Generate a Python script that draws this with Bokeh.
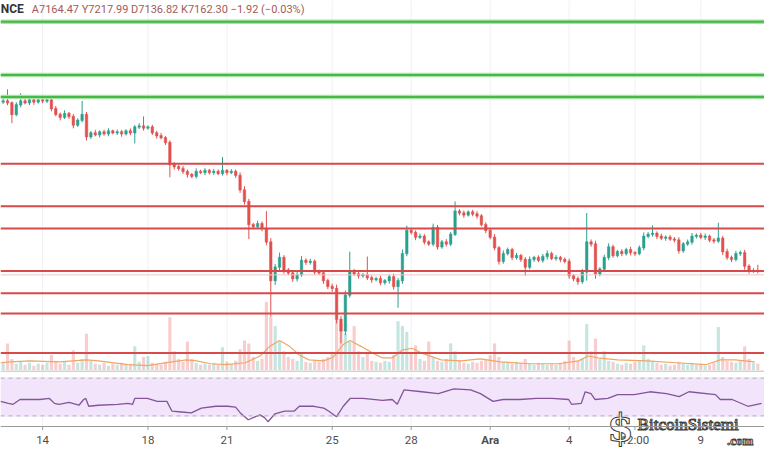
from bokeh.plotting import figure
from bokeh.models import Range1d, Span
from bokeh.layouts import column
from bokeh.embed import file_html
from bokeh.resources import INLINE
from bokeh.core.properties import value

# ---------------- data (4h candles, time in days from 14 Nov 00:00) ----------------
first_open = 8735
closes = [
    8744, 8726, 8618, 8708, 8744, 8726, 8753, 8735, 8753, 8744,
    8753, 8672, 8618, 8591, 8627, 8600, 8519, 8564, 8618, 8411,
    8447, 8429, 8456, 8438, 8465, 8447, 8456, 8438, 8465, 8447,
    8501, 8510, 8492, 8501, 8447, 8420, 8402, 8357, 8150, 8132,
    8114, 8087, 8060, 8042, 8087, 8078, 8096, 8078, 8087, 8069,
    8096, 8078, 8087, 8051, 7916, 7808, 7592, 7574, 7601, 7556,
    7430, 7070, 7196, 7286, 7169, 7142, 7088, 7124, 7259, 7241,
    7250, 7151, 7142, 7070, 7016, 6998, 6710, 6602, 6935, 7160,
    7133, 7115, 7124, 7097, 7079, 7088, 7052, 7070, 7106, 7016,
    7070, 7322, 7538, 7520, 7475, 7484, 7430, 7412, 7565, 7385,
    7430, 7412, 7502, 7718, 7700, 7682, 7709, 7691, 7673, 7592,
    7538, 7475, 7376, 7250, 7322, 7358, 7286, 7304, 7268, 7196,
    7268, 7286, 7259, 7295, 7322, 7277, 7286, 7268, 7250, 7115,
    7088, 7061, 7151, 7430, 7412, 7133, 7178, 7286, 7385, 7304,
    7340, 7322, 7358, 7331, 7322, 7376, 7484, 7502, 7511, 7484,
    7466, 7475, 7457, 7448, 7349, 7412, 7430, 7484, 7493, 7475,
    7484, 7448, 7439, 7466, 7340, 7286, 7268, 7322, 7331, 7205,
    7160, 7164.47, 7162.30,
]
upper_wick = [
    20, 108, 15, 25, 72, 18, 22, 14, 27, 16,
    21, 13, 26, 18, 30, 15, 22, 19, 126, 24,
    17, 28, 14, 20, 25, 12, 22, 18, 16, 24,
    19, 27, 90, 15, 21, 18, 26, 14, 20, 23,
    16, 25, 18, 13, 29, 17, 22, 15, 24, 19,
    126, 14, 21, 18, 27, 33, 24, 16, 28, 20,
    162, 36, 30, 45, 22, 18, 25, 31, 40, 19,
    24, 17, 22, 28, 19, 26, 35, 30, 42, 180,
    20, 25, 17, 171, 22, 18, 27, 15, 21, 30,
    26, 38, 45, 22, 18, 25, 20, 16, 36, 24,
    19, 27, 22, 90, 18, 24, 15, 21, 26, 17,
    22, 19, 28, 16, 30, 20, 18, 25, 14, 22,
    27, 16, 20, 24, 30, 18, 22, 15, 19, 25,
    17, 21, 28, 270, 24, 30, 18, 26, 33, 20,
    16, 24, 19, 27, 15, 22, 35, 20, 72, 18,
    24, 16, 21, 19, 26, 18, 23, 30, 17, 22,
    25, 15, 20, 144, 22, 28, 17, 24, 19, 26,
    18, 22, 54,
]
lower_wick = [
    18, 22, 81, 16, 24, 14, 20, 27, 15, 21,
    19, 25, 16, 28, 14, 22, 30, 17, 20, 35,
    21, 15, 26, 18, 23, 14, 20, 27, 16, 22,
    99, 18, 24, 15, 20, 27, 17, 22, 117, 26,
    19, 23, 30, 17, 21, 15, 25, 18, 22, 16,
    20, 27, 15, 24, 28, 30, 135, 22, 18, 26,
    30, 333, 40, 28, 35, 22, 30, 26, 18, 24,
    21, 27, 19, 30, 25, 32, 40, 117, 38, 24,
    20, 26, 18, 22, 29, 16, 24, 20, 27, 30,
    198, 30, 25, 20, 28, 17, 24, 19, 22, 26,
    18, 24, 20, 16, 22, 27, 15, 21, 25, 18,
    26, 20, 24, 30, 22, 17, 25, 19, 23, 81,
    20, 24, 17, 22, 28, 16, 21, 26, 19, 27,
    24, 30, 20, 81, 26, 45, 22, 18, 25, 20,
    17, 23, 19, 26, 21, 15, 24, 18, 22, 27,
    19, 25, 16, 22, 28, 20, 17, 24, 21, 18,
    26, 20, 23, 17, 30, 22, 25, 19, 21, 33,
    24, 18, 25,
]
volume = [
    8, 28, 12, 7, 9, 6, 8, 5, 7, 6,
    8, 16, 10, 7, 9, 6, 21, 8, 12, 38,
    10, 7, 6, 8, 5, 7, 6, 8, 6, 7,
    25, 9, 14, 15, 8, 7, 6, 9, 55, 20,
    12, 9, 30, 12, 8, 6, 7, 6, 8, 6,
    24, 9, 7, 10, 22, 31, 28, 14, 10, 12,
    71, 56, 46, 30, 20, 14, 12, 10, 18, 9,
    8, 10, 9, 12, 14, 18, 53, 48, 38, 30,
    46, 20, 14, 18, 10, 9, 8, 10, 9, 16,
    51, 46, 40, 18, 26, 12, 10, 30, 14, 10,
    9, 12, 28, 20, 10, 8, 7, 9, 8, 10,
    12, 16, 28, 14, 9, 8, 7, 9, 8, 12,
    7, 6, 8, 7, 6, 7, 6, 8, 10, 31,
    14, 10, 12, 48, 20, 33, 12, 20, 10, 9,
    7, 6, 8, 7, 9, 10, 26, 12, 10, 8,
    6, 7, 5, 6, 9, 7, 6, 8, 6, 7,
    5, 6, 8, 45, 14, 10, 9, 8, 10, 25,
    12, 8, 7,
]
vol_ma_t = [-1.60, -1.23, -0.48, 0.63, 1.67, 2.12, 3.24, 3.98, 4.91, 5.47, 5.84, 6.40,
            6.96, 7.70, 8.26, 8.63, 9.00, 9.38, 9.75, 10.12, 10.68, 11.05, 11.42, 11.68,
            12.09, 12.54, 12.91, 13.28, 13.65, 14.03, 14.40, 15.14, 15.89, 16.63, 17.37,
            18.49, 19.61, 20.35, 20.72, 21.09, 21.84, 22.95, 24.07, 25.19, 25.74, 26.30, 27.05]
vol_ma = [8, 9, 10, 9, 11, 10, 6, 5, 9, 11, 10, 7,
          6, 8, 15, 25, 31, 25, 16, 11, 10, 14, 27, 31,
          25, 18, 13, 13, 21, 23, 18, 11, 10, 12, 9,
          7, 7, 10, 15, 13, 11, 10, 8, 6, 11, 11, 9]
rsi_t = [-1.60, -1.30, -1.12, -0.86, -0.11, 0.26, 0.45, 0.63, 1.00, 1.38, 1.56, 1.64, 1.75,
         2.12, 2.86, 3.24, 3.42, 3.50, 3.98, 4.35, 4.72, 4.91, 5.28, 5.65, 6.03, 6.58,
         7.03, 7.33, 7.51, 7.81, 8.07, 8.26, 8.44, 8.56, 8.82, 9.19, 9.56, 9.75, 10.30,
         10.68, 10.86, 11.16, 11.42, 11.68, 12.17, 12.91, 13.28, 13.47, 13.73, 14.40,
         15.03, 15.62, 16.26, 16.63, 17.11, 17.49, 18.12, 18.75, 19.35, 19.98, 20.09,
         20.46, 20.61, 20.83, 20.98, 21.47, 21.84, 22.47, 23.07, 23.70, 24.18, 24.55,
         25.56, 25.74, 26.19, 26.79, 27.31]
rsi = [45.4, 43.3, 42.3, 47.4, 47.4, 48.5, 43.3, 42.3, 44.4, 41.3, 47.4, 48.5, 40.2,
       41.3, 42.3, 43.3, 42.3, 48.5, 48.5, 45.4, 45.4, 35.1, 34.1, 33.1, 38.2, 40.2,
       40.2, 39.2, 33.1, 25.9, 29.0, 31.0, 27.9, 23.8, 32.0, 35.1, 35.1, 40.2, 40.2,
       38.2, 35.1, 29.0, 40.2, 48.5, 48.5, 46.4, 47.4, 42.3, 57.7, 55.6,
       53.6, 58.7, 57.7, 53.6, 45.4, 47.4, 47.4, 48.5, 48.5, 47.4, 42.3,
       43.3, 55.6, 53.6, 47.4, 48.5, 52.6, 52.6, 55.6, 53.6, 50.5, 55.6,
       52.6, 47.4, 47.4, 40.2, 43.3]
green_levels = [9482, 8987, 8780]
red_levels = [8159, 7763, 7556, 7160, 6953, 6764, 6395]
tick_days = [0, 4, 7, 11, 14, 17, 20, 22.5, 25]
tick_labels = ["14", "18", "21", "25", "28", "Ara", "4", "12:00", "9"]
header_symbol = "NCE"
header_values = "A7164.47  Y7217.99  D7136.82  K7162.30  \u22121.92 (\u22120.03%)"

# ---------------- derived candle geometry ----------------
n = len(closes)
t = [-1.5 + i / 6 for i in range(n)]
opens = [first_open] + closes[:-1]
highs = [max(o, c) + u for o, c, u in zip(opens, closes, upper_wick)]
lows = [min(o, c) - l for o, c, l in zip(opens, closes, lower_wick)]
UP, DN = "#2aa08f", "#e2504d"
cols = [UP if c >= o else DN for o, c in zip(opens, closes)]
body_top = [max(o, c) + 2 for o, c in zip(opens, closes)]
body_bot = [min(o, c) - 2 for o, c in zip(opens, closes)]

X0, X1 = -1.6, 27.42
W, H1, H2 = 764, 370, 84

p = figure(width=W, height=H1, x_range=Range1d(X0, X1), y_range=Range1d(6233, 9680),
           output_backend="svg", toolbar_location=None, min_border=0,
           x_axis_location=None, y_axis_location=None, outline_line_color=None)
p.xgrid.visible = False
p.ygrid.visible = False
p.extra_y_ranges = {"vol": Range1d(0, 383)}

for d in tick_days:
    p.add_layout(Span(location=d, dimension="height", line_color="#eef1f4", line_width=1, level="underlay"))

p.vbar(x=t, top=volume, bottom=0, width=0.12, y_range_name="vol",
       fill_color=cols, fill_alpha=0.28, line_color=None)
p.line(vol_ma_t, vol_ma, y_range_name="vol", line_color="#eea766", line_width=1.2)

p.segment(t, highs, t, lows, line_color=cols, line_width=1)
p.vbar(x=t, top=body_top, bottom=body_bot, width=0.095, fill_color=cols, line_color=cols, line_width=0.5)

for lv in green_levels:
    p.add_layout(Span(location=lv, dimension="width", line_color="#a6e3a6", line_width=4.5))
    p.add_layout(Span(location=lv, dimension="width", line_color="#45b845", line_width=2))
for lv in red_levels:
    p.add_layout(Span(location=lv, dimension="width", line_color="#d8494a", line_width=2))
p.add_layout(Span(location=7124, dimension="width", line_color="#f5c4c4", line_width=1))

p.text(x=[X0 + 0.01], y=[9600], text=[header_symbol], text_font=value("Roboto"),
       text_font_size="12px", text_font_style="bold", text_color="#333333",
       text_baseline="middle", text_align="left")
p.text(x=[-0.41], y=[9600], text=[header_values], text_font=value("Roboto"),
       text_font_size="11px", text_color="#a25b58", text_baseline="middle", text_align="left")

# ---------------- RSI + date axis pane ----------------
p2 = figure(width=W, height=H2, x_range=p.x_range, y_range=Range1d(-11.05, 78.2),
            output_backend="svg", toolbar_location=None, min_border=0,
            x_axis_location=None, y_axis_location=None, outline_line_color=None)
p2.xgrid.visible = False
p2.ygrid.visible = False

p2.varea(x=[X0, X1], y1=[29, 29], y2=[71, 71], fill_color="#f2e4fb")
for d in tick_days:
    p2.add_layout(Span(location=d, dimension="height", line_color="#eef1f4", line_width=1, level="underlay"))
p2.add_layout(Span(location=77.6, dimension="width", line_color="#c4c4c4", line_width=1.5))
for lv in [70, 30]:
    p2.add_layout(Span(location=lv, dimension="width", line_color="#b7b0bc", line_width=1, line_dash="4 4"))
p2.line(rsi_t, rsi, line_color="#84549a", line_width=1.3)

p2.varea(x=[X0, X1], y1=[-11.05, -11.05], y2=[18.7, 18.7], fill_color="white")
p2.add_layout(Span(location=18.7, dimension="width", line_color="#9a9a9a", line_width=1))
p2.segment(tick_days, [18.7] * len(tick_days), tick_days, [15.0] * len(tick_days),
           line_color="#9a9a9a", line_width=1)
styles = ["bold" if s == "Ara" else "normal" for s in tick_labels]
p2.text(x=tick_days, y=[4.0] * len(tick_days), text=tick_labels, text_font=value("Roboto"),
        text_font_size="11.5px", text_font_style=styles, text_color="#4d4d4d",
        text_align="center", text_baseline="middle")

# watermark
p2.text(x=[21.95], y=[18.0], text=["$"], text_font=value("DejaVu Serif"), text_font_size="38px",
        text_font_style="bold", text_color="white", text_outline_color="#3c3c3c",
        text_align="center", text_baseline="middle")
p2.text(x=[22.6], y=[21.0], text=["BitcoinSistemi"], text_font=value("Liberation Serif"),
        text_font_size="17px", text_color="white", text_outline_color="#3c3c3c",
        text_align="left", text_baseline="middle")
p2.text(x=[27.0], y=[4.0], text=[".com"], text_font=value("Liberation Serif"),
        text_font_size="13px", text_font_style="bold", text_color="white",
        text_outline_color="#3c3c3c", text_align="right", text_baseline="middle")

layout = column(p, p2, spacing=0)
open("out.html", "w").write(file_html(layout, INLINE))
